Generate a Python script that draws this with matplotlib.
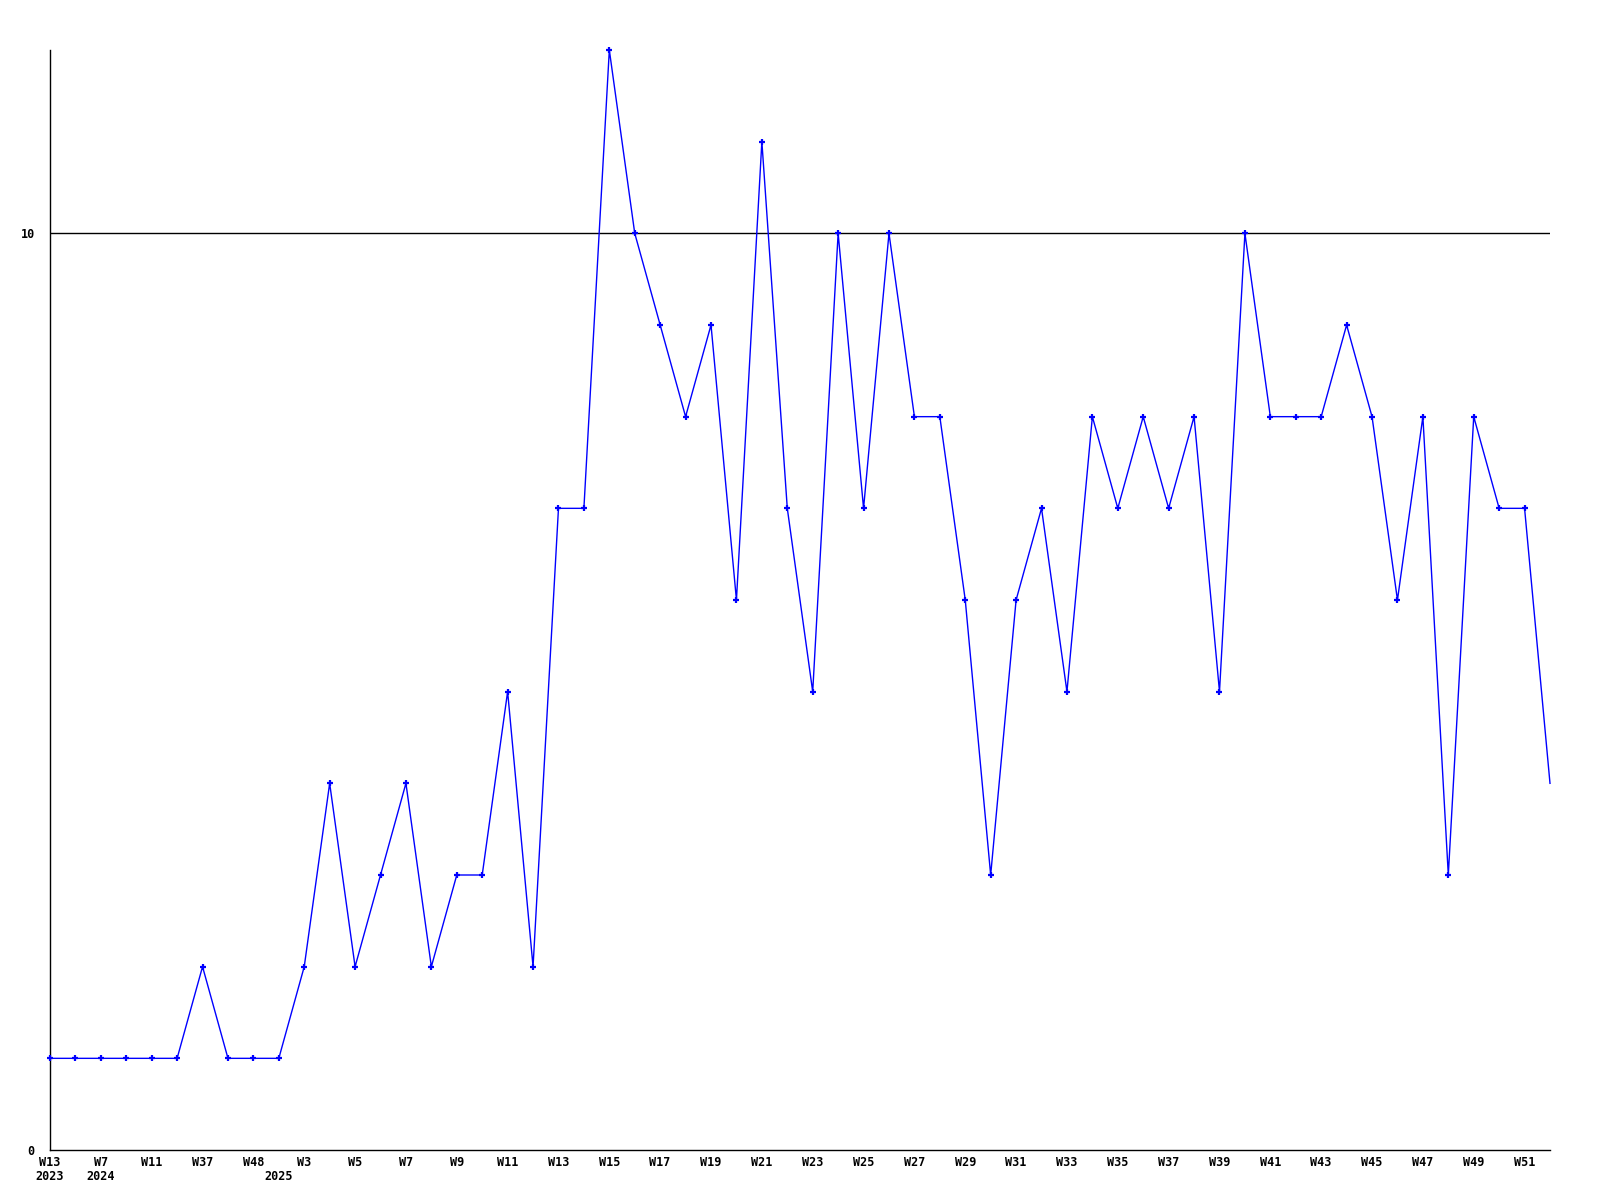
import numpy as np
import matplotlib
matplotlib.use("Agg")
import matplotlib.pyplot as plt
from matplotlib.transforms import offset_copy

# week labels (odd ones before W3 2025 are not printed on the chart, guessed)
weeks = ["W13", "W15", "W7", "W9", "W11", "W35", "W37", "W40", "W48", "W2"] + \
        ["W%d" % w for w in range(3, 53)]
years = [2023, 2023, 2024, 2024, 2024, 2024, 2024, 2024, 2024, 2025] + [2025] * 50
values = [1, 1, 1, 1, 1, 1, 2, 1, 1, 1,
          2, 4, 2, 3, 4, 2, 3, 3, 5, 2,
          7, 7, 12, 10, 9, 8, 9, 6, 11, 7,
          5, 10, 7, 10, 8, 8, 6, 3, 6, 7,
          5, 8, 7, 8, 7, 8, 5, 10, 8, 8,
          8, 9, 8, 6, 8, 3, 8, 7, 7, 4]

x = np.arange(len(values))
font = dict(family="DejaVu Sans Mono", fontweight="bold", fontsize=8.5)

fig = plt.figure(figsize=(16, 12), dpi=100)
ax = fig.add_axes([50 / 1600, 50 / 1200, 1500 / 1600, 1100 / 1200])

ax.axhline(10, color="black", lw=1, zorder=1)
# last point is partial, drawn without a marker
ax.plot(x, values, color="#0000ff", lw=1, marker="+", ms=5, mew=1.6,
        markevery=list(range(len(values) - 1)), zorder=3, clip_on=False)

ax.set_xlim(0, len(values) - 1)
ax.set_ylim(0, 12)
ax.set_yticks([0, 10])
ax.set_yticklabels(["0", "10"], **font)
ax.set_xticks(x[::2])
ax.set_xticklabels(weeks[::2], **font)
ax.tick_params(axis="both", length=0)
ax.tick_params(axis="x", pad=4)
ax.tick_params(axis="y", pad=11)

for s in ["top", "right"]:
    ax.spines[s].set_visible(False)
for s in ["left", "bottom"]:
    ax.spines[s].set_color("black")
    ax.spines[s].set_linewidth(1)

# year labels on a second row where the year changes
trans = offset_copy(ax.get_xaxis_transform(), fig=fig, x=0, y=-20, units="dots")
for i in range(len(years)):
    if i == 0 or years[i] != years[i - 1]:
        ax.text(x[i], 0, str(years[i]), transform=trans, ha="center", va="top", **font)

fig.savefig("out.png", dpi=100)
